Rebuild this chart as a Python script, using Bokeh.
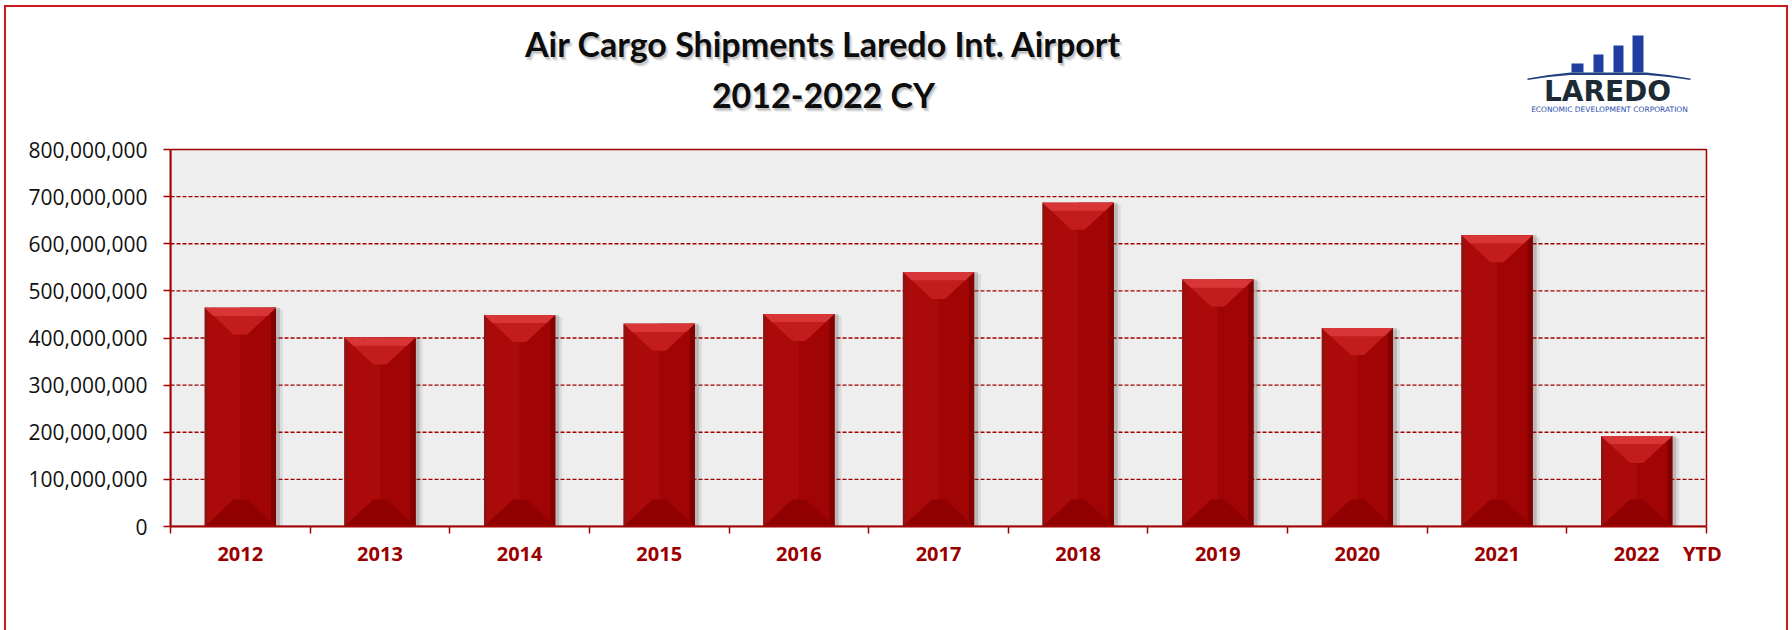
from bokeh.plotting import figure
from bokeh.models import FixedTicker, NumeralTickFormatter, Range1d
from bokeh.core.properties import value
from bokeh.embed import file_html
from bokeh.resources import INLINE

# ---------------- data ----------------
years = ["2012", "2013", "2014", "2015", "2016", "2017", "2018", "2019", "2020", "2021", "2022"]
shipments = [464e6, 401e6, 449e6, 430e6, 451e6, 540e6, 687e6, 524e6, 421e6, 618e6, 192e6]
y_ticks = [0, 100e6, 200e6, 300e6, 400e6, 500e6, 600e6, 700e6, 800e6]
title_line1 = "Air Cargo Shipments Laredo Int. Airport"
title_line2 = "2012-2022 CY"
last_note = "YTD"

# ---------------- layout ----------------
W, H = 1792, 630
ML, MB = 170, 104           # left / bottom panels (axes)
PLOT_W, PLOT_H = 1536, 377  # grey plotting area
FRAME_W, FRAME_H = W - ML, H - MB
Y_MAX = y_ticks[-1]
n = len(years)
px_x = PLOT_W / n
px_y = PLOT_H / Y_MAX
RED = "#a00000"

p = figure(width=W, height=H,
           x_range=Range1d(-0.5, -0.5 + FRAME_W / px_x),
           y_range=Range1d(0, FRAME_H / px_y),
           output_backend="svg", toolbar_location=None,
           min_border_left=ML, min_border_right=0, min_border_top=0, min_border_bottom=MB)
# pixel ranges for decorations (title, logo)
p.extra_x_ranges = {"px": Range1d(ML, W)}
p.extra_y_ranges = {"px": Range1d(FRAME_H, 0)}
p.background_fill_color = None
p.border_fill_color = None
p.outline_line_color = None

# outer red frame of the whole chart (CSS background lines on the host element)
p.styles = {
    "background-color": "white",
    "background-image": "linear-gradient(#cc1a1a,#cc1a1a), linear-gradient(#cc1a1a,#cc1a1a), "
                        "linear-gradient(#cc1a1a,#cc1a1a)",
    "background-size": "2px 100%, 1784px 2px, 2px 100%",
    "background-position": "4px 5px, 4px 5px, 1786px 5px",
    "background-repeat": "no-repeat",
}

xs = list(range(n))
bw = 0.51

# grey plotting area + dashed grid
p.quad(left=[-0.5], right=[n - 0.5], bottom=[0], top=[Y_MAX],
       fill_color="#eeeeee", line_color=None)
grid_vals = y_ticks[1:-1]
p.segment(x0=[-0.5] * len(grid_vals), x1=[n - 0.5] * len(grid_vals), y0=grid_vals, y1=grid_vals,
          line_color=RED, line_dash="4 2", line_width=1.3)

# bar shadow
p.vbar(x=[x + 4 / px_x for x in xs], top=shipments, width=bw, bottom=0,
       fill_color="#444444", fill_alpha=0.22, line_color=None)
p.vbar(x=[x + 7 / px_x for x in xs], top=[v - 2 / px_y for v in shipments], width=bw, bottom=0,
       fill_color="#444444", fill_alpha=0.10, line_color=None)

# bar body
p.vbar(x=xs, top=shipments, width=bw, bottom=0, fill_color="#aa0a0a", line_color=None)
p.vbar(x=[x + bw / 4 for x in xs], top=shipments, width=bw / 2, bottom=0,
       fill_color="#a10404", line_color=None)
p.vbar(x=[x + bw / 2 - 2.5 / px_x for x in xs], top=shipments, width=5 / px_x, bottom=0,
       fill_color="#820000", line_color=None)
p.vbar(x=[x - bw / 2 + 1.5 / px_x for x in xs], top=shipments, width=3 / px_x, bottom=0,
       fill_color="#8e1414", line_color=None)

# bevels
bh = 27 / px_y
bd = 29 / px_x
top_xs, top_ys, bot_xs, bot_ys, hl_xs, hl_ys = [], [], [], [], [], []
for x, v in zip(xs, shipments):
    xl, xr = x - bw / 2, x + bw / 2
    top_xs.append([xl, xr, xr - bd, xl + bd])
    top_ys.append([v, v, v - bh, v - bh])
    hl_xs.append([xl, xr, xr - bd * 0.3, xl + bd * 0.3])
    hl_ys.append([v, v, v - bh * 0.3, v - bh * 0.3])
    bot_xs.append([xl, xr, xr - bd, xl + bd])
    bot_ys.append([0, 0, bh, bh])
p.patches(top_xs, top_ys, fill_color="#c21c1c", line_color=None)
p.patches(hl_xs, hl_ys, fill_color="#d83636", line_color=None)
p.patches(bot_xs, bot_ys, fill_color="#900000", line_color=None)

# plot-area outline
p.quad(left=[-0.5], right=[n - 0.5], bottom=[0], top=[Y_MAX],
       fill_color=None, line_color=RED, line_width=1.5)

# ---------------- axes ----------------
p.ygrid.visible = False
p.xgrid.visible = False

p.yaxis.bounds = (0, Y_MAX)
p.yaxis.ticker = FixedTicker(ticks=y_ticks)
p.yaxis.formatter = NumeralTickFormatter(format="0,0")
p.yaxis.major_label_text_font = "Open Sans"
p.yaxis.major_label_text_font_size = "21px"
p.yaxis.major_label_text_color = "#111111"
p.yaxis.major_tick_out = 7
p.yaxis.major_tick_in = 0
p.yaxis.major_tick_line_color = RED
p.yaxis.major_tick_line_width = 1.5
p.yaxis.minor_tick_line_color = None
p.yaxis.axis_line_color = RED
p.yaxis.axis_line_width = 2
p.yaxis.major_label_standoff = 16

ytd_x = (n - 1) + 0.47
p.xaxis.bounds = (-0.5, n - 0.5)
p.xaxis.ticker = FixedTicker(ticks=xs + [ytd_x], minor_ticks=[i - 0.5 for i in range(n + 1)])
overrides = {i: yr for i, yr in enumerate(years)}
overrides[ytd_x] = last_note
p.xaxis.major_label_overrides = overrides
p.xaxis.major_tick_line_color = None
p.xaxis.major_tick_out = 0
p.xaxis.major_tick_in = 0
p.xaxis.minor_tick_out = 7
p.xaxis.minor_tick_in = 0
p.xaxis.minor_tick_line_color = RED
p.xaxis.minor_tick_line_width = 1.5
p.xaxis.axis_line_color = RED
p.xaxis.axis_line_width = 2
p.xaxis.major_label_text_font = "Open Sans"
p.xaxis.major_label_text_font_style = "bold"
p.xaxis.major_label_text_font_size = "20px"
p.xaxis.major_label_text_color = "#9b0000"
p.xaxis.major_label_standoff = 6

# ---------------- title (pixel range) ----------------
title_x = 823
title_y = [43, 94]
titles = [title_line1, title_line2]
for dx, dy, a in [(1, 2, 0.22), (2, 3, 0.18), (3, 4, 0.10)]:
    p.text(x=[title_x + dx] * 2, y=[ty + dy for ty in title_y], text=titles,
           x_range_name="px", y_range_name="px",
           text_font=value("Lato"), text_font_style="bold", text_font_size="34px",
           text_align="center", text_baseline="alphabetic", text_color="#666666", text_alpha=a)
p.text(x=[title_x] * 2, y=title_y, text=titles, x_range_name="px", y_range_name="px",
       text_font=value("Lato"), text_font_style="bold", text_font_size="34px",
       text_align="center", text_baseline="alphabetic", text_color="#0d0d0d")

# ---------------- logo (pixel range) ----------------
logo_l = [1571, 1593, 1613, 1632]
logo_r = [1583, 1603, 1623, 1643]
logo_t = [63, 54, 45, 35]
p.quad(left=logo_l, right=logo_r, top=logo_t, bottom=[72] * 4,
       x_range_name="px", y_range_name="px", fill_color="#1f3ea0", line_color=None)
sw_x = [1527, 1548, 1570, 1646, 1668, 1690, 1690, 1668, 1646, 1570, 1548, 1527]
sw_y = [78, 74.5, 72, 72, 74.5, 78, 79.5, 76.5, 74.5, 74.5, 76.5, 79.5]
p.patch(sw_x, sw_y, x_range_name="px", y_range_name="px", fill_color="#24407f", line_color=None)
p.text(x=[1607], y=[91], text=["LAREDO"], x_range_name="px", y_range_name="px",
       text_font=value("DejaVu Sans"), text_font_style="bold", text_font_size="28px",
       text_align="center", text_baseline="alphabetic", text_color="#1b2a35")
p.text(x=[1609], y=[109], text=["ECONOMIC DEVELOPMENT CORPORATION"],
       x_range_name="px", y_range_name="px",
       text_font=value("DejaVu Sans"), text_font_size="7.5px",
       text_align="center", text_baseline="alphabetic", text_color="#2b4fae")

open("out.html", "w").write(file_html(p, INLINE))
